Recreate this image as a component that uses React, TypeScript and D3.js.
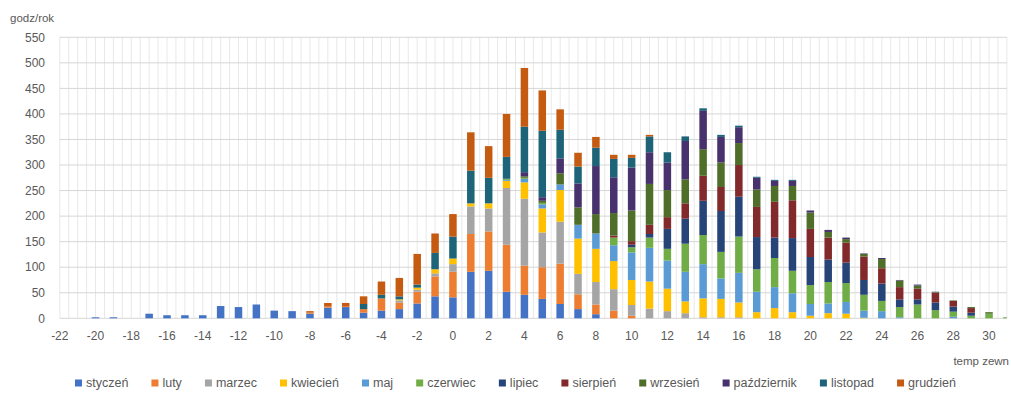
import React, { useMemo } from "react";
import * as d3 from "d3";

// Outdoor temperature bins (°C)
const temps: number[] = [
  -22, -21, -20, -19, -18, -17, -16, -15, -14, -13,
  -12, -11, -10, -9, -8, -7, -6, -5, -4, -3,
  -2, -1, 0, 1, 2, 3, 4, 5, 6, 7,
  8, 9, 10, 11, 12, 13, 14, 15, 16, 17,
  18, 19, 20, 21, 22, 23, 24, 25, 26, 27,
  28, 29, 30, 31,
];

// Hours per year in each temperature bin, per month
const styczen = [
  0, 0, 2, 2, 0, 9, 6, 6, 6, 24,
  22, 27, 15, 14, 9, 21, 22, 11, 15, 18,
  29, 43, 41, 91, 93, 52, 46, 38, 28, 18,
  8, 0, 0, 0, 0, 0, 0, 0, 0, 0,
  0, 0, 0, 0, 0, 0, 0, 0, 0, 0,
  0, 0, 0, 0,
];
const luty = [
  0, 0, 0, 0, 0, 0, 0, 0, 0, 0,
  0, 0, 0, 0, 2, 3, 2, 7, 24, 13,
  23, 39, 50, 74, 77, 92, 57, 62, 79, 29,
  19, 15, 5, 0, 0, 0, 0, 0, 0, 0,
  0, 0, 0, 0, 0, 0, 0, 0, 0, 0,
  0, 0, 0, 0,
];
const marzec = [
  0, 0, 0, 0, 0, 0, 0, 0, 0, 0,
  0, 0, 0, 0, 0, 0, 0, 0, 0, 4,
  4, 6, 15, 54, 45, 111, 131, 68, 82, 40,
  44, 42, 21, 19, 14, 10, 2, 2, 2, 0,
  0, 0, 0, 0, 0, 0, 0, 0, 0, 0,
  0, 0, 0, 0,
];
const kwiecien = [
  0, 0, 0, 0, 0, 0, 0, 0, 0, 0,
  0, 0, 0, 0, 0, 0, 0, 0, 0, 2,
  4, 8, 11, 6, 10, 14, 32, 47, 62, 69,
  65, 55, 49, 53, 44, 23, 37, 36, 29, 12,
  20, 12, 5, 10, 9, 1, 0, 0, 0, 0,
  0, 0, 0, 0,
];
const maj = [
  0, 0, 0, 0, 0, 0, 0, 0, 0, 0,
  0, 0, 0, 0, 0, 0, 0, 0, 0, 0,
  0, 0, 0, 0, 0, 2, 7, 8, 11, 27,
  30, 31, 54, 66, 55, 58, 67, 40, 58, 40,
  41, 37, 23, 19, 23, 14, 14, 2, 0, 0,
  3, 0, 0, 0,
];
const czerwiec = [
  0, 0, 0, 0, 0, 0, 0, 0, 0, 0,
  0, 0, 0, 0, 0, 0, 0, 0, 0, 0,
  0, 0, 0, 0, 0, 2, 2, 3, 0, 0,
  0, 15, 10, 20, 23, 55, 57, 52, 71, 44,
  57, 44, 37, 42, 37, 31, 20, 20, 27, 16,
  10, 5, 9, 2,
];
const lipiec = [
  0, 0, 0, 0, 0, 0, 0, 0, 0, 0,
  0, 0, 0, 0, 0, 0, 0, 0, 0, 0,
  0, 0, 0, 0, 0, 0, 0, 0, 0, 0,
  0, 0, 5, 7, 39, 49, 67, 80, 78, 63,
  40, 64, 55, 44, 40, 29, 34, 15, 10, 15,
  10, 6, 0, 0,
];
const sierpien = [
  0, 0, 0, 0, 0, 0, 0, 0, 0, 0,
  0, 0, 0, 0, 0, 0, 0, 0, 0, 0,
  0, 0, 0, 0, 0, 0, 0, 0, 0, 0,
  0, 4, 7, 18, 23, 30, 49, 47, 62, 59,
  70, 74, 55, 43, 39, 46, 30, 24, 21, 19,
  11, 9, 0, 0,
];
const wrzesien = [
  0, 0, 0, 0, 0, 0, 0, 0, 0, 0,
  0, 0, 0, 0, 0, 0, 0, 0, 0, 0,
  0, 0, 0, 0, 0, 0, 3, 4, 22, 34,
  38, 44, 60, 80, 53, 47, 52, 48, 43, 34,
  31, 28, 32, 11, 7, 5, 18, 13, 6, 1,
  1, 2, 3, 0,
];
const pazdziernik = [
  0, 0, 0, 0, 0, 0, 0, 0, 0, 0,
  0, 0, 0, 0, 0, 0, 0, 0, 0, 0,
  0, 0, 0, 0, 0, 0, 8, 7, 29, 47,
  94, 70, 84, 62, 54, 75, 75, 50, 31, 23,
  10, 10, 4, 4, 3, 1, 2, 1, 2, 1,
  0, 0, 0, 0,
];
const listopad = [
  0, 0, 0, 0, 0, 0, 0, 0, 0, 0,
  0, 0, 0, 0, 0, 0, 0, 10, 7, 6,
  6, 32, 43, 64, 50, 43, 89, 130, 56, 33,
  36, 36, 19, 31, 20, 9, 5, 4, 3, 2,
  2, 2, 0, 0, 0, 0, 0, 0, 0, 0,
  0, 0, 0, 0,
];
const grudzien = [
  0, 0, 0, 0, 0, 0, 0, 0, 0, 0,
  0, 0, 0, 0, 3, 6, 6, 15, 26, 36,
  60, 38, 44, 75, 62, 84, 115, 79, 40, 27,
  21, 8, 6, 3, 0, 0, 0, 0, 0, 0,
  0, 0, 0, 0, 0, 0, 0, 0, 0, 0,
  0, 0, 0, 0,
];

const months = [
  "styczeń", "luty", "marzec", "kwiecień", "maj", "czerwiec",
  "lipiec", "sierpień", "wrzesień", "październik", "listopad", "grudzień",
];
const monthValues = [
  styczen, luty, marzec, kwiecien, maj, czerwiec,
  lipiec, sierpien, wrzesien, pazdziernik, listopad, grudzien,
];
const monthColors = [
  "#4472C4", "#ED7D31", "#A5A5A5", "#FFC000", "#5B9BD5", "#70AD47",
  "#264478", "#822A2B", "#4E6E2A", "#47326D", "#1E6478", "#C55A11",
];

const yTicks = [0, 50, 100, 150, 200, 250, 300, 350, 400, 450, 500, 550];
const xTickLabels = [
  -22, -20, -18, -16, -14, -12, -10, -8, -6, -4, -2, 0, 2, 4,
  6, 8, 10, 12, 14, 16, 18, 20, 22, 24, 26, 28, 30,
];

const W = 1011;
const H = 403;
const PLOT_L = 59.8;
const PLOT_R = 1006.9;
const PLOT_T = 37.3;
const PLOT_B = 318.3;
const BAR_W = 7.5;
const FONT = "'Liberation Sans', Arial, sans-serif";
const TEXT = "#595959";

function measure(text: string, size: number): number {
  const c = document.createElement("canvas").getContext("2d");
  if (!c) return text.length * size * 0.5;
  c.font = `${size}px 'Liberation Sans', Arial, sans-serif`;
  return c.measureText(text).width;
}

export default function App() {
  const rows = useMemo(
    () =>
      temps.map((t, i) => {
        const r: Record<string, number> = { t };
        months.forEach((m, k) => (r[m] = monthValues[k][i]));
        return r;
      }),
    []
  );

  const series = useMemo(() => d3.stack<Record<string, number>>().keys(months)(rows), [rows]);

  // "on tick marks" category positioning: first and last bins sit on the plot edges
  const x = d3.scalePoint<number>().domain(temps).range([PLOT_L, PLOT_R]).padding(0);
  const y = d3.scaleLinear().domain([0, 550]).range([PLOT_B, PLOT_T]);
  const step = x.step();

  const halfLines: number[] = [];
  for (let i = 0; i < temps.length; i++) {
    halfLines.push(x(temps[i]) as number);
    if (i < temps.length - 1) halfLines.push((x(temps[i]) as number) + step / 2);
  }

  // legend layout: items spread across the band below the axis title
  const legendSize = 12.5;
  const marker = 7;
  const markerGap = 4;
  const legendLeft = 75;
  const legendRight = 956;
  const widths = months.map((m) => marker + markerGap + measure(m, legendSize));
  const itemGap = (legendRight - legendLeft - d3.sum(widths)) / (months.length - 1);
  let cursor = legendLeft;
  const legendItems = months.map((m, k) => {
    const item = { m, x: cursor, color: monthColors[k] };
    cursor += widths[k] + itemGap;
    return item;
  });
  const legendY = 383;

  return (
    <svg
      width={W}
      height={H}
      style={{ position: "absolute", left: 0, top: 0, background: "#fff" }}
      fontFamily={FONT}
    >
      <defs>
        <clipPath id="plotClip">
          <rect x={PLOT_L} y={0} width={PLOT_R - PLOT_L} height={PLOT_B + 1} />
        </clipPath>
      </defs>
      <rect x={0} y={0} width={W} height={H} fill="#fff" />

      {/* vertical gridlines */}
      {halfLines.map((gx, i) => (
        <line key={"v" + i} x1={gx} x2={gx} y1={y(550)} y2={y(0)} stroke="#e8e8e8" strokeWidth={1} />
      ))}
      {/* horizontal gridlines */}
      {yTicks.map((v) => (
        <line key={"h" + v} x1={PLOT_L} x2={PLOT_R} y1={y(v)} y2={y(v)} stroke="#d6d6d6" strokeWidth={1} />
      ))}

      {/* stacked bars */}
      <g clipPath="url(#plotClip)">
        {series.map((s, k) => (
          <g key={s.key} fill={monthColors[k]}>
            {s.map((d, i) =>
              d[1] - d[0] > 0 ? (
                <rect
                  key={i}
                  x={(x(temps[i]) as number) - BAR_W / 2}
                  y={y(d[1])}
                  width={BAR_W}
                  height={y(d[0]) - y(d[1])}
                />
              ) : null
            )}
          </g>
        ))}
      </g>

      {/* y axis labels */}
      {yTicks.map((v) => (
        <text key={"yl" + v} x={45} y={y(v)} dy="0.35em" textAnchor="end" fontSize={12} fill={TEXT}>
          {v}
        </text>
      ))}
      <text x={10} y={22} fontSize={11.5} fill={TEXT}>godz/rok</text>

      {/* x axis labels */}
      {xTickLabels.map((t) => (
        <text key={"xl" + t} x={x(t) as number} y={340} textAnchor="middle" fontSize={12} fill={TEXT}>
          {t}
        </text>
      ))}
      <text x={1009} y={365} textAnchor="end" fontSize={11.5} fill={TEXT}>temp zewn</text>

      {/* legend */}
      {legendItems.map((it) => (
        <g key={it.m}>
          <rect x={it.x} y={legendY - marker / 2} width={marker} height={marker} fill={it.color} />
          <text x={it.x + marker + markerGap} y={legendY} dy="0.35em" fontSize={legendSize} fill={TEXT}>
            {it.m}
          </text>
        </g>
      ))}
    </svg>
  );
}
